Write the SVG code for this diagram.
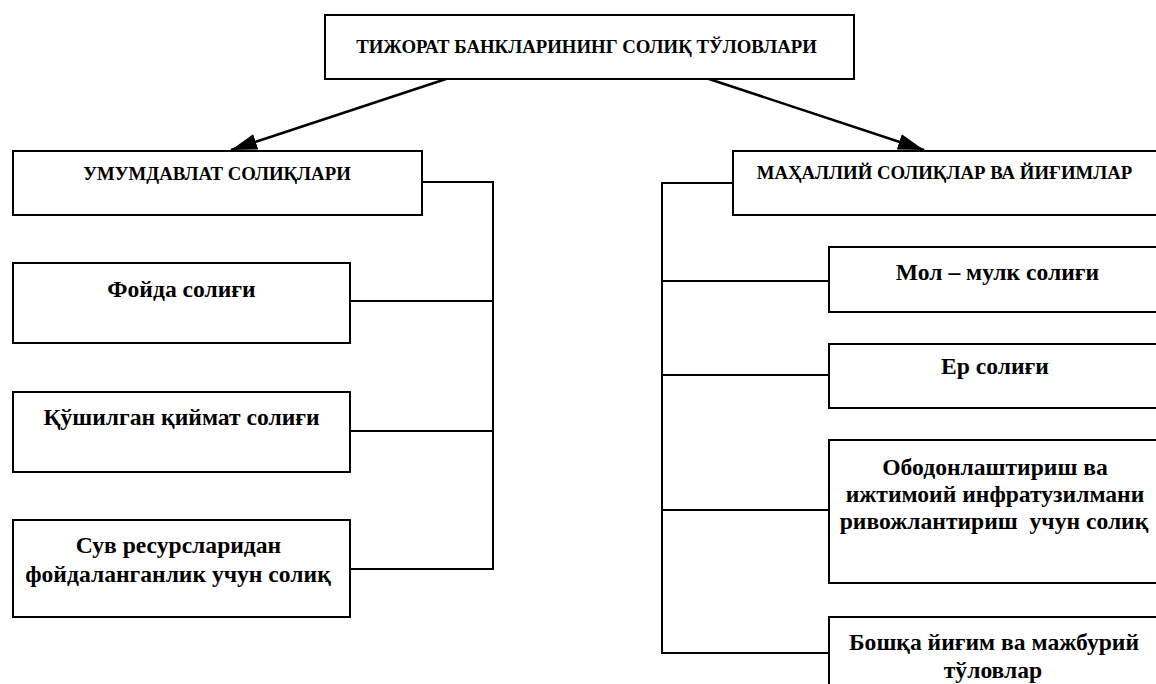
<svg xmlns="http://www.w3.org/2000/svg" width="1156" height="684" viewBox="0 0 1156 684">
<style>
.box{fill:#fff;stroke:#000;stroke-width:2}
.con{fill:none;stroke:#000;stroke-width:2}
.arr{fill:none;stroke:#000;stroke-width:2.5}
.h{font-family:"Liberation Serif","Times New Roman",serif;font-weight:bold;font-size:18.8px;text-anchor:middle;fill:#000}
.t{font-family:"Liberation Serif","Times New Roman",serif;font-weight:bold;font-size:23.6px;text-anchor:middle;fill:#000}
</style>
<defs>
<marker id="ah" markerUnits="userSpaceOnUse" markerWidth="30" markerHeight="20" refX="26" refY="8" orient="auto">
<path d="M0,0 L26,8 L0,16 Z" fill="#000"/>
</marker>
</defs>
<rect width="1156" height="684" fill="#fff"/>
<g id="connectors">
<line class="arr" x1="446" y1="79" x2="231" y2="150" marker-end="url(#ah)"/>
<line class="arr" x1="709" y1="79" x2="924" y2="150" marker-end="url(#ah)"/>
<polyline class="con" points="422,182 493,182 493,569 350,569"/>
<line class="con" x1="350" y1="301" x2="493" y2="301"/>
<line class="con" x1="350" y1="431" x2="493" y2="431"/>
<polyline class="con" points="733,183 662,183 662,653 829,653"/>
<line class="con" x1="662" y1="281" x2="829" y2="281"/>
<line class="con" x1="662" y1="375" x2="829" y2="375"/>
<line class="con" x1="662" y1="510" x2="829" y2="510"/>
</g>
<g id="n-root">
<rect class="box" x="325" y="15" width="529" height="64"/>
<text class="h" x="586.5" y="53">ТИЖОРАТ БАНКЛАРИНИНГ СОЛИҚ ТЎЛОВЛАРИ</text>
</g>
<g id="n-umum">
<rect class="box" x="13" y="151" width="409" height="64"/>
<text class="h" x="217" y="180">УМУМДАВЛАТ СОЛИҚЛАРИ</text>
</g>
<g id="n-foyda">
<rect class="box" x="13" y="263" width="337" height="80"/>
<text class="t" x="181.5" y="297">Фойда солиғи</text>
</g>
<g id="n-qqs">
<rect class="box" x="13" y="392" width="337" height="80"/>
<text class="t" x="181.5" y="425">Қўшилган қиймат солиғи</text>
</g>
<g id="n-suv">
<rect class="box" x="13" y="520" width="337" height="97"/>
<text class="t" x="178.5" y="553">Сув ресурсларидан</text>
<text class="t" x="178" y="582">фойдаланганлик учун солиқ</text>
</g>
<g id="n-mahal">
<rect class="box" x="733" y="151" width="440" height="64"/>
<text class="h" x="944.5" y="179">МАҲАЛЛИЙ СОЛИҚЛАР ВА ЙИҒИМЛАР</text>
</g>
<g id="n-mol">
<rect class="box" x="829" y="247" width="340" height="65"/>
<text class="t" x="997.5" y="280">Мол – мулк солиғи</text>
</g>
<g id="n-er">
<rect class="box" x="829" y="344" width="340" height="64"/>
<text class="t" x="995" y="374">Ер солиғи</text>
</g>
<g id="n-obod">
<rect class="box" x="829" y="440" width="340" height="143"/>
<text class="t" x="995" y="475">Ободонлаштириш ва</text>
<text class="t" x="995" y="502">ижтимоий инфратузилмани</text>
<text class="t" x="994" y="529" xml:space="preserve">ривожлантириш  учун солиқ</text>
</g>
<g id="n-boshqa">
<rect class="box" x="829" y="617" width="340" height="100"/>
<text class="t" x="994" y="650">Бошқа йиғим ва мажбурий</text>
<text class="t" x="993" y="678">тўловлар</text>
</g>
</svg>
